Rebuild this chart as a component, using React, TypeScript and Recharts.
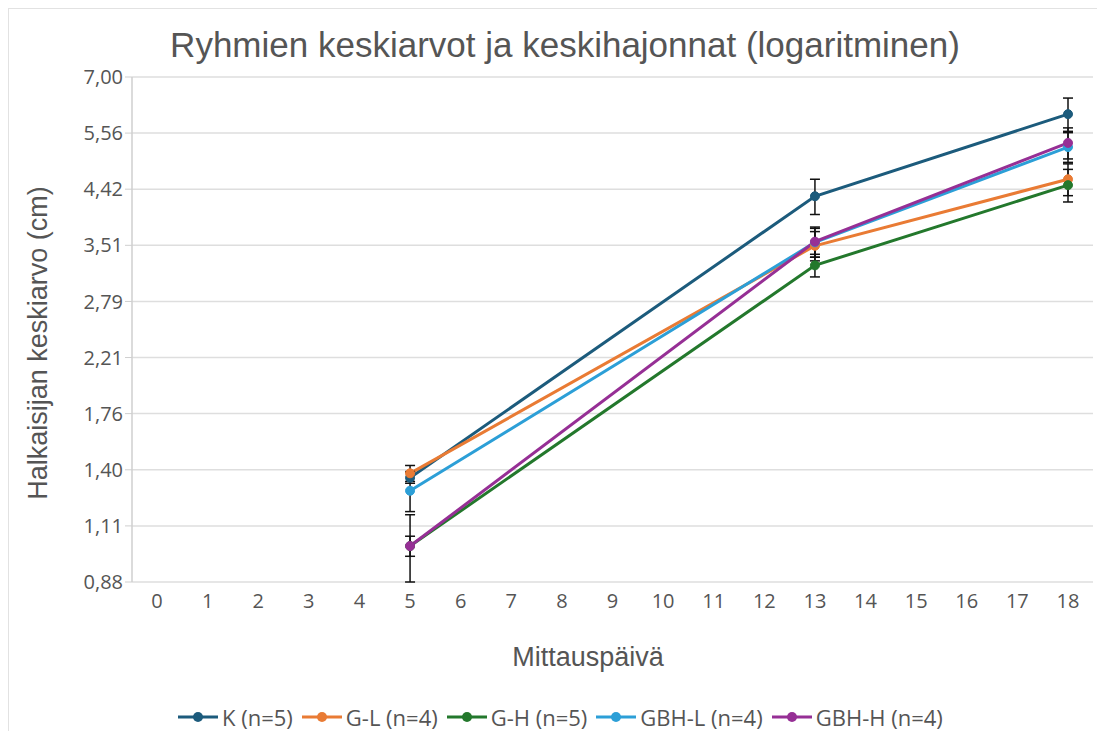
import { LineChart, Line, XAxis, YAxis, CartesianGrid, ErrorBar } from "recharts";

const DAYS = [0, 1, 2, 3, 4, 5, 6, 7, 8, 9, 10, 11, 12, 13, 14, 15, 16, 17, 18];
const MEASURED = [5, 13, 18];

const K_MEAN = [1.35, 4.29, 6.01];
const K_SD = [0.03, 0.31, 0.41];
const GL_MEAN = [1.375, 3.5, 4.6];
const GL_SD = [0.045, 0.21, 0.3];
const GH_MEAN = [1.02, 3.23, 4.49];
const GH_SD = [0.14, 0.15, 0.3];
const GBHL_MEAN = [1.28, 3.55, 5.25];
const GBHL_SD = [0.105, 0.21, 0.32];
const GBHH_MEAN = [1.02, 3.56, 5.34];
const GBHH_SD = [0.042, 0.22, 0.34];

const Y_TICKS = [0.88, 1.108, 1.395, 1.757, 2.212, 2.785, 3.507, 4.416, 5.56, 7.0];

const SERIES = [
  { key: "k", name: "K (n=5)", color: "#1c5b7c", mean: K_MEAN, sd: K_SD },
  { key: "gl", name: "G-L (n=4)", color: "#e97b34", mean: GL_MEAN, sd: GL_SD },
  { key: "gh", name: "G-H (n=5)", color: "#23782c", mean: GH_MEAN, sd: GH_SD },
  { key: "gbhl", name: "GBH-L (n=4)", color: "#2c9fd7", mean: GBHL_MEAN, sd: GBHL_SD },
  { key: "gbhh", name: "GBH-H (n=4)", color: "#962f95", mean: GBHH_MEAN, sd: GBHH_SD },
];

const data = DAYS.map((d) => {
  const row: Record<string, number | null> = { day: d };
  const i = MEASURED.indexOf(d);
  SERIES.forEach((s) => {
    row[s.key] = i >= 0 ? s.mean[i] : null;
    row[s.key + "Sd"] = i >= 0 ? s.sd[i] : null;
  });
  return row;
});

const fmt = (v: number) => v.toFixed(2).replace(".", ",");
const SANS = "'Liberation Sans', Arial, sans-serif";
const TICK_FONT = "'Open Sans', sans-serif";

export default function App() {
  return (
    <div
      style={{
        position: "relative",
        width: 1096,
        height: 722,
        borderLeft: "1px solid #e2e2e2",
        borderTop: "1px solid #e2e2e2",
        background: "#fff",
      }}
    >
      <div
        style={{
          position: "absolute",
          left: 556,
          top: 36,
          transform: "translate(-50%, -50%)",
          fontFamily: SANS,
          fontSize: 35,
          color: "#555",
          whiteSpace: "nowrap",
        }}
      >
        Ryhmien keskiarvot ja keskihajonnat (logaritminen)
      </div>
      <div
        style={{
          position: "absolute",
          left: 29,
          top: 334,
          transform: "translate(-50%, -50%) rotate(-90deg)",
          fontFamily: SANS,
          fontSize: 27,
          color: "#555",
          whiteSpace: "nowrap",
        }}
      >
        Halkaisijan keskiarvo (cm)
      </div>
      <div
        style={{
          position: "absolute",
          left: 579,
          top: 648,
          transform: "translate(-50%, -50%)",
          fontFamily: SANS,
          fontSize: 27,
          color: "#555",
          whiteSpace: "nowrap",
        }}
      >
        Mittauspäivä
      </div>

      <LineChart width={1096} height={722} data={data} margin={{ top: 68, right: 12, left: 0, bottom: 109 }}>
        <CartesianGrid vertical={false} stroke="#dedede" strokeWidth={1.5} />
        <XAxis
          dataKey="day"
          type="category"
          interval={0}
          padding={{ left: 25, right: 25 }}
          height={40}
          axisLine={false}
          tickLine={false}
          tick={{ fontSize: 20, fill: "#555", fontFamily: TICK_FONT }}
          tickMargin={6}
        />
        <YAxis
          type="number"
          scale="log"
          domain={[0.88, 7]}
          allowDataOverflow
          ticks={Y_TICKS}
          tickFormatter={fmt}
          width={123}
          axisLine={{ stroke: "#cfcfcf", strokeWidth: 1.5 }}
          tickLine={{ stroke: "#cfcfcf" }}
          tickSize={7}
          tick={{ fontSize: 20, fill: "#555", fontFamily: TICK_FONT }}
        />
        {SERIES.map((s) => (
          <Line
            key={s.key}
            dataKey={s.key}
            name={s.name}
            stroke={s.color}
            strokeWidth={3}
            connectNulls
            dot={{ r: 4.5, fill: s.color, stroke: s.color, strokeWidth: 1 }}
            activeDot={false}
            isAnimationActive={false}
          >
            <ErrorBar dataKey={s.key + "Sd"} width={5} stroke="#111" strokeWidth={1.5} direction="y" />
          </Line>
        ))}
      </LineChart>

      <div
        style={{
          position: "absolute",
          left: 169,
          top: 693,
          display: "flex",
          alignItems: "center",
          fontFamily: TICK_FONT,
          fontSize: 22,
          color: "#555",
          whiteSpace: "nowrap",
        }}
      >
        {SERIES.map((s) => (
          <div key={s.key} style={{ display: "flex", alignItems: "center", marginRight: 9 }}>
            <svg width={40} height={14} style={{ marginRight: 4 }}>
              <line x1={0} y1={7} x2={40} y2={7} stroke={s.color} strokeWidth={3} />
              <circle cx={20} cy={7} r={5} fill={s.color} />
            </svg>
            <span>{s.name}</span>
          </div>
        ))}
      </div>
    </div>
  );
}
